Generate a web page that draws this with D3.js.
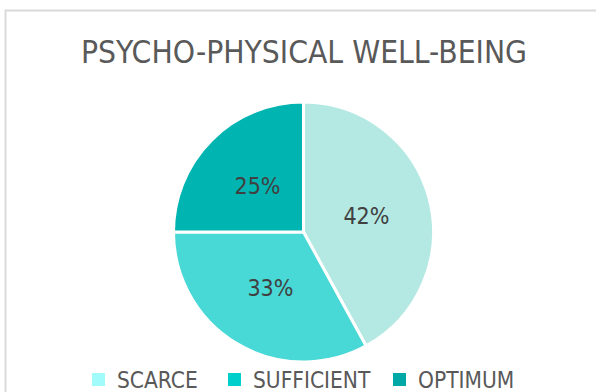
<!DOCTYPE html>
<html>
<head>
<meta charset="utf-8">
<script src="https://cdn.jsdelivr.net/npm/d3@7"></script>
<style>
  html, body { margin: 0; padding: 0; background: #ffffff; }
  svg { display: block; }
</style>
</head>
<body>
<svg id="chart" width="596" height="392"></svg>
<script>
// Survey result: distribution of psycho-physical well-being levels
const categories = ["SCARCE", "SUFFICIENT", "OPTIMUM"];
const shares = [42, 33, 25];
const sliceColors = ["#b4e9e3", "#48d8d5", "#00b4b1"];
const legendColors = ["#a2fbfb", "#00cfcc", "#00a9a6"];
const title = "PSYCHO-PHYSICAL WELL-BEING";

const FONT = "'DejaVu Sans Condensed', sans-serif";

const svg = d3.select("#chart");

// chart area frame (continues past the right and bottom edges)
svg.append("rect")
  .attr("x", 5.5).attr("y", 10.5)
  .attr("width", 620).attr("height", 420)
  .attr("fill", "#ffffff")
  .attr("stroke", "#d9d9d9")
  .attr("stroke-width", 2);

// title
svg.append("text")
  .attr("x", 304).attr("y", 63)
  .attr("text-anchor", "middle")
  .attr("font-family", FONT)
  .attr("font-size", 31.5)
  .attr("fill", "#595959")
  .text(title);

// pie
const cx = 303.5, cy = 232, radius = 130;
const data = categories.map((c, i) => ({ name: c, value: shares[i], i }));

const pie = d3.pie().value(d => d.value).sort(null);
const arc = d3.arc().innerRadius(0).outerRadius(radius);

const g = svg.append("g").attr("transform", `translate(${cx},${cy})`);
const arcs = pie(data);

g.selectAll("path.slice")
  .data(arcs)
  .join("path")
  .attr("class", "slice")
  .attr("d", arc)
  .attr("fill", d => sliceColors[d.data.i])
  .attr("stroke", "#ffffff")
  .attr("stroke-width", 3)
  .attr("stroke-linejoin", "miter");

g.selectAll("text.value")
  .data(arcs)
  .join("text")
  .attr("class", "value")
  .attr("transform", d => `translate(${arc.centroid(d)})`)
  .attr("text-anchor", "middle")
  .attr("dy", "0.36em")
  .attr("font-family", FONT)
  .attr("font-size", 23)
  .attr("fill", "#404040")
  .text(d => d.data.value + "%");

// legend
const legendX = [92, 228, 393];
const legend = svg.append("g");
const items = legend.selectAll("g.item")
  .data(data)
  .join("g")
  .attr("class", "item")
  .attr("transform", (d, i) => `translate(${legendX[i]},373)`);

items.append("rect")
  .attr("width", 13).attr("height", 13)
  .attr("fill", d => legendColors[d.i]);

items.append("text")
  .attr("x", 25).attr("y", 15)
  .attr("font-family", FONT)
  .attr("font-size", 22.5)
  .attr("fill", "#595959")
  .text(d => d.name);
</script>
</body>
</html>
